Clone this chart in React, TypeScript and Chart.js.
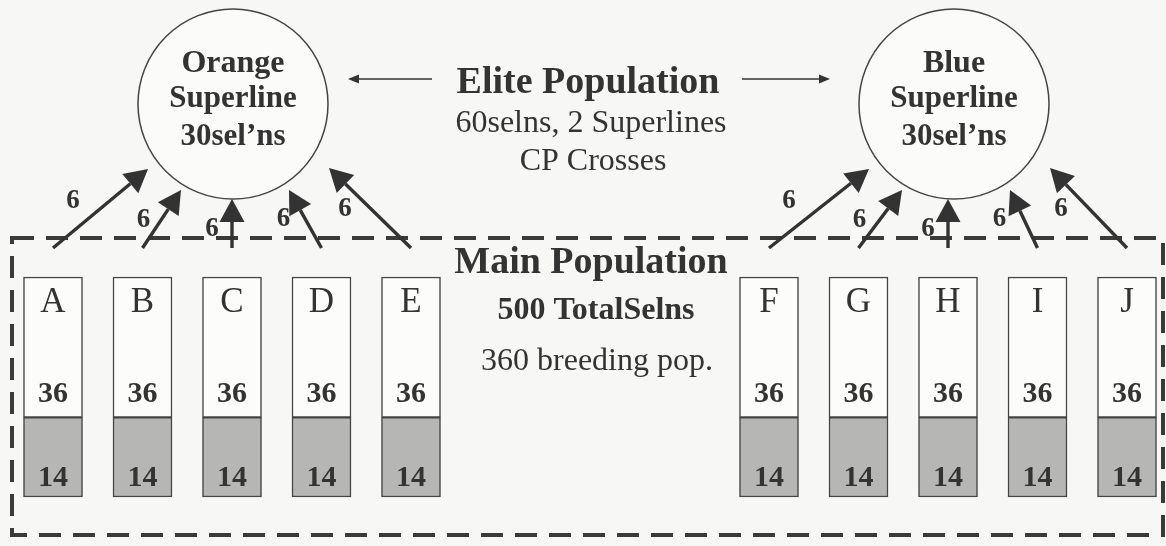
import React, { useEffect, useRef } from 'react';
import { Chart, registerables } from 'chart.js';

Chart.register(...registerables);

// ---------------- data ----------------
const LEFT_GROUPS = ['A', 'B', 'C', 'D', 'E'];
const RIGHT_GROUPS = ['F', 'G', 'H', 'I', 'J'];
const GAP_SLOTS = 3;
const CATEGORIES = [...LEFT_GROUPS, ...Array(GAP_SLOTS).fill(''), ...RIGHT_GROUPS];
const BREEDING = [36, 36, 36, 36, 36, 36, 36, 36, 36, 36];
const REMAINDER = [14, 14, 14, 14, 14, 14, 14, 14, 14, 14];
const TO_SUPERLINE = [6, 6, 6, 6, 6, 6, 6, 6, 6, 6];
const SUPERLINE_NAMES = ['Orange', 'Blue'];
const SUPERLINE_SELNS = ["30sel\u2019ns", "30sel\u2019ns"];
const ELITE_TEXT = ['Elite Population', '60selns, 2 Superlines', 'CP Crosses'];
const MAIN_TEXT = ['Main Population', '500 TotalSelns', '360 breeding pop.'];

// align group values with category slots (gap slots are empty)
const alignToCategories = (vals: number[]) => {
  let k = 0;
  return CATEGORIES.map((c) => (c ? vals[k++] : null));
};

const INK = '#333333';
const SERIF = '"Liberation Serif", "Times New Roman", serif';

function drawArrow(ctx: CanvasRenderingContext2D, x1: number, y1: number, x2: number, y2: number, lw: number, headLen: number, headW: number) {
  const ang = Math.atan2(y2 - y1, x2 - x1);
  const bx = x2 - headLen * Math.cos(ang);
  const by = y2 - headLen * Math.sin(ang);
  ctx.lineWidth = lw;
  ctx.beginPath();
  ctx.moveTo(x1, y1);
  ctx.lineTo(bx, by);
  ctx.stroke();
  ctx.beginPath();
  ctx.moveTo(x2, y2);
  ctx.lineTo(bx + (headW / 2) * Math.sin(ang), by - (headW / 2) * Math.cos(ang));
  ctx.lineTo(bx - (headW / 2) * Math.sin(ang), by + (headW / 2) * Math.cos(ang));
  ctx.closePath();
  ctx.fill();
}

function text(ctx: CanvasRenderingContext2D, s: string, x: number, y: number, font: string) {
  ctx.font = font;
  ctx.textAlign = 'center';
  ctx.textBaseline = 'alphabetic';
  ctx.fillText(s, x, y);
}

const diagramPlugin = {
  id: 'diagram',
  beforeDraw(chart: any) {
    const ctx = chart.ctx;
    ctx.save();
    ctx.fillStyle = '#f7f7f5';
    ctx.fillRect(0, 0, chart.width, chart.height);
    ctx.restore();
  },
  afterDatasetsDraw(chart: any) {
    const ctx: CanvasRenderingContext2D = chart.ctx;
    const gray = chart.getDatasetMeta(0).data;
    const white = chart.getDatasetMeta(1).data;
    const top = chart.chartArea.top;
    ctx.save();
    ctx.fillStyle = INK;
    ctx.strokeStyle = INK;

    // bar labels
    let k = 0;
    CATEGORIES.forEach((c, i) => {
      if (!c) return;
      const g = gray[i];
      const w = white[i];
      text(ctx, c, w.x, w.y + 35, `35px ${SERIF}`);
      text(ctx, String(BREEDING[k]), w.x, g.y - 15, `bold 30px ${SERIF}`);
      text(ctx, String(REMAINDER[k]), g.x, g.base - 11, `bold 30px ${SERIF}`);
      k++;
    });

    // dashed "Main Population" frame
    ctx.save();
    ctx.strokeStyle = '#3a3a3a';
    ctx.lineWidth = 4;
    ctx.setLineDash([22, 12]);
    ctx.strokeRect(12, top - 39, 1151, 297);
    ctx.restore();

    // superline circles and arrows
    const groups = [
      [0, 1, 2, 3, 4],
      [8, 9, 10, 11, 12],
    ];
    const circleShift = [1, 6];
    const tipOffsets = [
      [-85, 65],
      [-52, 86],
      [0, 95],
      [56, 86],
      [96, 64],
    ];
    const labelOffsets = [
      [20, -49],
      [1, -30],
      [-20, -21],
      [-38, -31],
      [-66, -41],
    ];
    const circles: number[][] = [];
    groups.forEach((idx, gi) => {
      const cx = white[idx[2]].x + circleShift[gi];
      const cy = top - 173;
      circles.push([cx, cy]);
      ctx.save();
      ctx.lineWidth = 1.5;
      ctx.strokeStyle = '#444';
      ctx.fillStyle = '#fbfbfa';
      ctx.beginPath();
      ctx.arc(cx, cy, 95, 0, Math.PI * 2);
      ctx.fill();
      ctx.stroke();
      ctx.restore();
      text(ctx, SUPERLINE_NAMES[gi], cx, cy - 32, `bold 32px ${SERIF}`);
      text(ctx, 'Superline', cx, cy + 3, `bold 31px ${SERIF}`);
      text(ctx, SUPERLINE_SELNS[gi], cx, cy + 41, `bold 31px ${SERIF}`);

      idx.forEach((bi, j) => {
        const tx = white[bi].x;
        const ty = top - 29;
        const hx = j === 2 ? tx : cx + tipOffsets[j][0];
        const hy = cy + tipOffsets[j][1];
        drawArrow(ctx, tx, ty, hx, hy, 3.4, 23, 25);
        text(ctx, String(TO_SUPERLINE[gi * 5 + j]), tx + labelOffsets[j][0], ty + labelOffsets[j][1] + 9, `bold 27px ${SERIF}`);
      });
    });

    // central texts
    const midX = (white[4].x + white[8].x) / 2;
    text(ctx, ELITE_TEXT[0], midX - 2, top - 184, `bold 38px ${SERIF}`);
    text(ctx, ELITE_TEXT[1], midX + 1, top - 145, `32px ${SERIF}`);
    text(ctx, ELITE_TEXT[2], midX + 3, top - 107, `32px ${SERIF}`);
    text(ctx, MAIN_TEXT[0], midX + 1, top - 4, `bold 38px ${SERIF}`);
    text(ctx, MAIN_TEXT[1], midX + 6, top + 42, `bold 32px ${SERIF}`);
    text(ctx, MAIN_TEXT[2], midX + 7, top + 93, `32px ${SERIF}`);

    // horizontal arrows toward superlines
    const ay = top - 198;
    drawArrow(ctx, midX - 158, ay, circles[0][0] + 115, ay, 1.6, 11, 9);
    drawArrow(ctx, midX + 152, ay, circles[1][0] - 124, ay, 1.6, 11, 9);

    ctx.restore();
  },
};

export default function App() {
  const ref = useRef<HTMLCanvasElement | null>(null);
  useEffect(() => {
    if (!ref.current) return;
    const chart = new Chart(ref.current, {
      type: 'bar',
      data: {
        labels: CATEGORIES,
        datasets: [
          {
            label: 'Remainder',
            data: alignToCategories(REMAINDER),
            backgroundColor: '#b6b6b4',
            borderColor: '#444',
            borderWidth: 1.5,
            borderSkipped: false,
            barThickness: 59,
            clip: false,
          } as any,
          {
            label: 'Breeding',
            data: alignToCategories(BREEDING),
            backgroundColor: '#fcfcfb',
            borderColor: '#444',
            borderWidth: 1.5,
            borderSkipped: false,
            barThickness: 59,
            clip: false,
          } as any,
        ],
      },
      options: {
        responsive: false,
        animation: false,
        devicePixelRatio: 1,
        events: [],
        layout: { padding: { left: 53, right: 39, top: 277, bottom: 49 } },
        plugins: { legend: { display: false }, tooltip: { enabled: false } },
        scales: {
          x: { type: 'category', offset: false, stacked: true, display: false },
          y: { type: 'logarithmic', min: 6.8, max: 50, stacked: true, display: false },
        },
      },
      plugins: [diagramPlugin],
    });
    return () => chart.destroy();
  }, []);
  return (
    <div style={{ position: 'absolute', left: 0, top: 0, width: 1166, height: 546 }}>
      <canvas ref={ref} width={1166} height={546} style={{ display: 'block' }} />
    </div>
  );
}
